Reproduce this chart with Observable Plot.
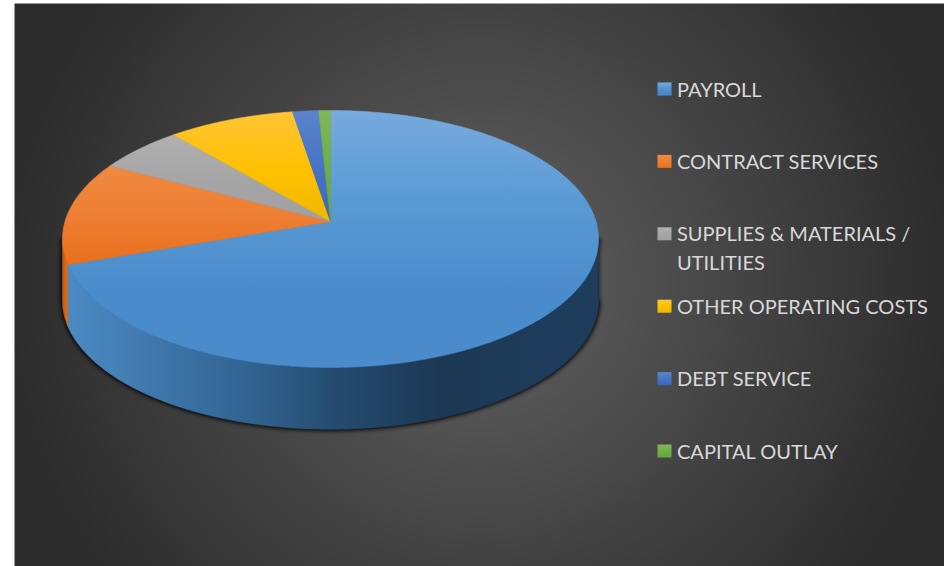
<!DOCTYPE html>
<html>
<head>
<meta charset="utf-8">
<script src="https://cdn.jsdelivr.net/npm/d3@7"></script>
<script src="https://cdn.jsdelivr.net/npm/@observablehq/plot@0.6"></script>
<style>
  html, body { margin: 0; padding: 0; background: #fff; }
  svg { display: block; }
</style>
</head>
<body>
<div id="chart"></div>
<script>
// Budget shares in percent, drawn clockwise starting from twelve o'clock.
const categories = ["PAYROLL", "CONTRACT SERVICES", "SUPPLIES & MATERIALS /\nUTILITIES", "OTHER OPERATING COSTS", "DEBT SERVICE", "CAPITAL OUTLAY"];
const shares = [69.7, 13.1, 5.9, 8.7, 1.8, 0.8];
const baseColors = ["#5b9bd5", "#ed7d31", "#a5a5a5", "#ffc000", "#4472c4", "#70ad47"];
const lightColors = ["#78aade", "#f08a42", "#b0b0b0", "#ffc535", "#5c84cc", "#80b85a"];
const deepColors = ["#4a8ccb", "#e8701c", "#a0a0a0", "#f0b800", "#3a68bd", "#66a63e"];

// Page geometry of the tilted disc.
const W = 944, H = 566, left = 14, top_ = 3;
const cx = 330, cy = 221, rx = 265.5, ry = 126.1, tilt = 0.136, depth = 0.49;

// Perspective projection of a point on the rim of the unit disc.
const rim = (deg) => {
  const t = deg * Math.PI / 180, u = Math.sin(t), v = -Math.cos(t), w = 1 - tilt * v;
  return [u / w, v / w];
};
const sweep = (a, b) => [...d3.range(a, b, 0.5), b];

// Slice start and end angles, accumulated from the shares.
let running = 0;
const slices = shares.map((s, i) => {
  const a0 = running;
  running += s * 3.6;
  return {i, a0, a1: running};
});

// Top faces run from the apex around the rim.
const topFace = ({a0, a1}) => [[0, 0], ...sweep(a0, a1).map(rim), [0, 0]];

// The visible wall is the rim's front-facing stretch, dropped by the disc's thickness.
const frontStart = Math.acos(-tilt) * 180 / Math.PI, frontEnd = 360 - frontStart;
const wallBand = (a, b) => {
  const upper = sweep(a, b).map(rim);
  return [...upper, ...upper.slice().reverse().map(([x, y]) => [x, y + depth])];
};
const wallFace = ({a0, a1}) => {
  const a = Math.max(a0, frontStart), b = Math.min(a1, frontEnd);
  return b > a ? wallBand(a, b) : null;
};

// Legend rows, placed on the same scales as the pie.
const toX = (px) => (px - cx) / rx, toY = (py) => (py - cy) / ry;
const rowY = (i) => 89 + 72.4 * i;
const legend = categories.map((label, i) => ({label, i, y: rowY(i)}));

const defs = () => {
  const topStops = slices.map(({i}) => `
    <linearGradient id="top${i}" x1="0" y1="0" x2="0" y2="1">
      <stop offset="0" stop-color="${lightColors[i]}"/>
      <stop offset="${i === 0 ? 0.33 : 0.55}" stop-color="${baseColors[i]}"/>
      <stop offset="${i === 0 ? 0.7 : 1}" stop-color="${deepColors[i]}"/>
    </linearGradient>`).join("");
  return d3.create("svg:defs").html(`
    <radialGradient id="bg" gradientUnits="userSpaceOnUse" cx="480" cy="284" r="470">
      <stop offset="0" stop-color="#626262"/>
      <stop offset="1" stop-color="#2c2c2c"/>
    </radialGradient>
    ${topStops}
    <linearGradient id="wall0" x1="0" y1="0" x2="1" y2="0">
      <stop offset="0" stop-color="#4c8ac4"/>
      <stop offset="0.15" stop-color="#4079ae"/>
      <stop offset="0.35" stop-color="#30628f"/>
      <stop offset="0.5" stop-color="#254c70"/>
      <stop offset="0.7" stop-color="#1c3855"/>
      <stop offset="1" stop-color="#1e3d5d"/>
    </linearGradient>
    <linearGradient id="wall1" x1="0" y1="0" x2="1" y2="0">
      <stop offset="0" stop-color="#b85d18"/>
      <stop offset="1" stop-color="#e0721f"/>
    </linearGradient>`).node();
};

const face = (points, fill) => Plot.line(points, {
  x: (d) => d[0], y: (d) => d[1], fill, stroke: fill, strokeWidth: 0.6
});

const plot = Plot.plot({
  width: W, height: H,
  marginLeft: left, marginTop: top_, marginRight: 0, marginBottom: 0,
  x: {domain: [toX(left), toX(W)], range: [left, W], axis: null},
  y: {domain: [toY(top_), toY(H)], range: [top_, H], axis: null},
  marks: [
    defs,
    Plot.frame({fill: "url(#bg)", stroke: "none"}),
    // Soft contact shadow along the lower edge of the disc.
    Plot.line(wallBand(frontStart, frontEnd), {
      x: (d) => d[0], y: (d) => d[1], fill: "#000", stroke: "#000", strokeWidth: 3,
      imageFilter: "blur(2px)"
    }),
    ...slices.filter((s) => wallFace(s)).map((s) => face(wallFace(s), `url(#wall${s.i})`)),
    ...slices.map((s) => face(topFace(s), `url(#top${s.i})`)),
    // Legend swatches and labels.
    ...legend.map(({i, y}) => Plot.rect([0], {
      x1: toX(657.5), x2: toX(671.5), y1: toY(y - 6.5), y2: toY(y + 6.5),
      fill: `url(#top${i})`, stroke: "none"
    })),
    Plot.text(legend, {
      x: toX(676.5), y: (d) => toY(d.y - 13.5),
      text: "label", textAnchor: "start", lineAnchor: "top", lineHeight: 1.45,
      fontFamily: "Lato", fontSize: 20, fill: "#d9d9d9"
    })
  ]
});
document.getElementById("chart").append(plot);
</script>
</body>
</html>
